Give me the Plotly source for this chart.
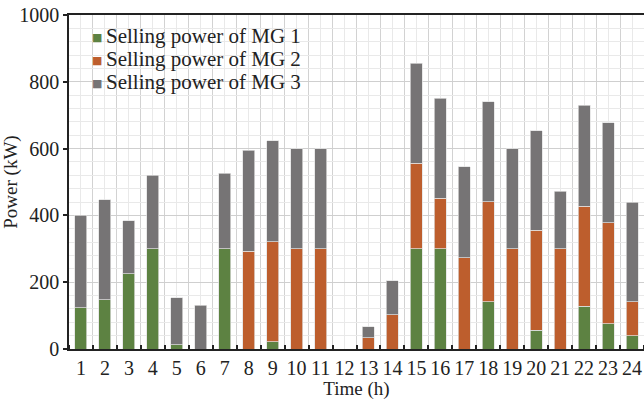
import plotly.graph_objects as go

hours = list(range(1, 25))
hour_labels = [str(h) for h in hours]
mg1 = [124, 148, 226, 300, 13, 0, 300, 0, 22, 0, 0, 0, 0, 0, 300, 300, 0, 142, 0, 56, 0, 128, 76, 39]
mg2 = [0, 0, 0, 0, 0, 0, 0, 292, 299, 300, 300, 0, 33, 102, 256, 151, 273, 299, 300, 299, 300, 299, 302, 103]
mg3 = [276, 299, 158, 220, 141, 131, 226, 303, 303, 300, 300, 0, 33, 102, 299, 300, 272, 299, 300, 299, 173, 303, 299, 298]
series_names = ["Selling power of MG 1", "Selling power of MG 2", "Selling power of MG 3"]
colors = ["#5d8242", "#bd5e2d", "#767475"]
y_ticks = [0, 200, 400, 600, 800, 1000]

FONT = "Liberation Serif, Times New Roman, serif"

fig = go.Figure()
for name, vals, col in zip(series_names, [mg1, mg2, mg3], colors):
    fig.add_trace(go.Bar(
        x=hours, y=[v if v > 0 else None for v in vals], name=name,
        marker=dict(color=col, line=dict(color="rgba(225,225,225,0.9)", width=0.8)),
        width=0.5, showlegend=False,
    ))

fig.update_layout(
    barmode="stack",
    width=644, height=400,
    margin=dict(l=69, r=0, t=15, b=51),
    paper_bgcolor="white", plot_bgcolor="white",
    font=dict(family=FONT, size=20, color="#222222"),
)

fig.update_xaxes(
    range=[0.5, 24.5],
    tickmode="array", tickvals=hours, ticktext=hour_labels,
    ticks="", showgrid=True, gridcolor="#e9e9e9", gridwidth=1,
    minor=dict(tickmode="array", tickvals=[h + 0.5 for h in range(0, 25)],
               ticks="inside", ticklen=4, tickcolor="#222", tickwidth=1.5,
               showgrid=True, gridcolor="#d2d2d2", gridwidth=1.2),
    showline=True, linecolor="#222", linewidth=1.5, mirror=True,
    title=dict(text="Time (h)", font=dict(size=19), standoff=0),
    tickfont=dict(size=20), zeroline=False,
)
fig.update_yaxes(
    range=[0, 1000],
    tickmode="array", tickvals=y_ticks,
    ticks="outside", ticklen=4, tickcolor="#222", tickwidth=1.5,
    showgrid=True, gridcolor="#cfcfcf", gridwidth=1.2,
    minor=dict(dtick=40, tick0=0, showgrid=True, gridcolor="#e9e9e9", gridwidth=1, ticks=""),
    showline=True, linecolor="#222", linewidth=1.5,
    title=dict(text="Power (kW)", font=dict(size=19), standoff=2),
    tickfont=dict(size=20), zeroline=False,
)

# Legend drawn as text annotations (tight line spacing like the original)
leg_y = [0.937, 0.868, 0.799]
for name, col, yy in zip(series_names, colors, leg_y):
    fig.add_annotation(
        xref="paper", yref="paper", x=0.0487, y=yy - 0.004,
        text="■", showarrow=False, xanchor="center", yanchor="middle",
        font=dict(family="DejaVu Sans", size=11, color=col),
    )
    fig.add_annotation(
        xref="paper", yref="paper", x=0.0609, y=yy,
        text=name, showarrow=False, xanchor="left", yanchor="middle",
        font=dict(family=FONT, size=21, color="#222222"),
    )

fig.write_html(
    "out.html",
    config={"displayModeBar": False},
    post_script="document.body.style.margin='0';document.body.style.overflow='hidden';",
)
